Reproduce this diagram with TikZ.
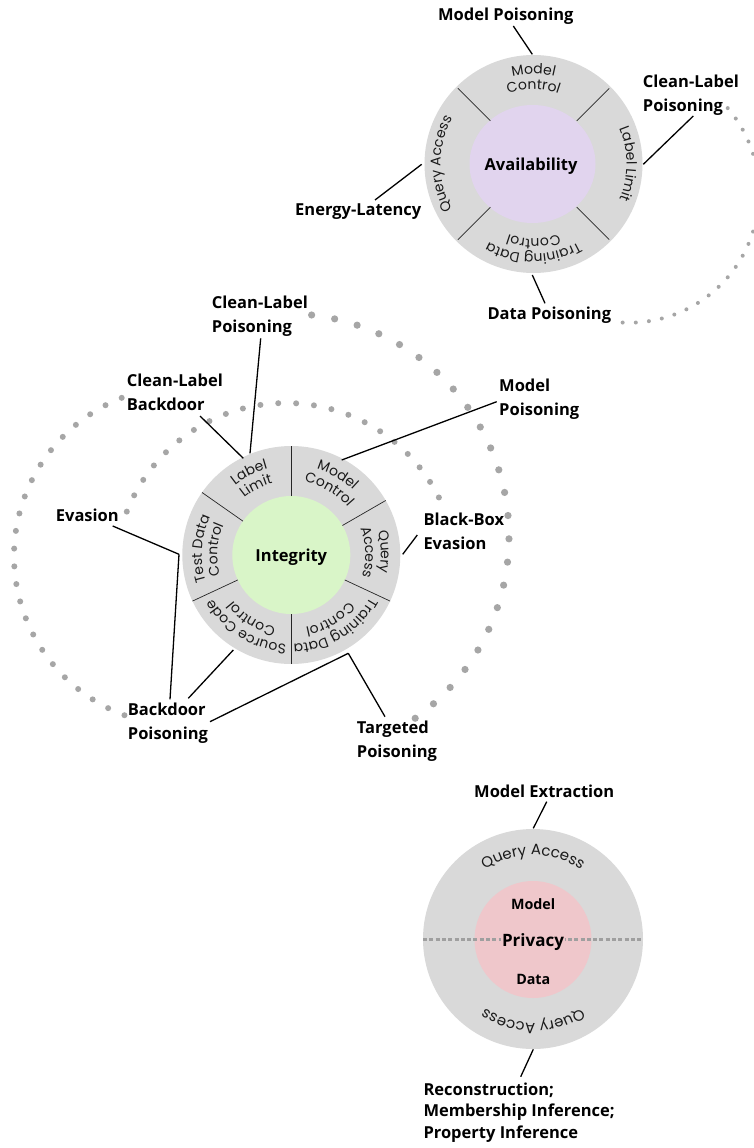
\documentclass[tikz,border=0pt]{standalone}
\usepackage{fontspec}
\setmainfont{Open Sans}
\newfontfamily\ringfont{Poppins}
\usetikzlibrary{decorations.text}
\definecolor{ringgray}{HTML}{D9D9D9}
\definecolor{availfill}{HTML}{E1D4EE}
\definecolor{integfill}{HTML}{D9F5C8}
\definecolor{privfill}{HTML}{EFC7CB}
\definecolor{dotgray}{HTML}{A6A6A6}
\definecolor{ringtxt}{HTML}{1A1A1A}
\newcommand\rfmt{\ringfont\fontsize{14}{16}\selectfont\color{ringtxt}}
\newcommand\rfmtb{\ringfont\fontsize{15}{17}\selectfont\color{ringtxt}}
\newcommand\rtxt[5]{\path[decorate,decoration={text along path,text align=center,text={|\rfmt|#5}}] (#1,#2) ++({#3+75}:#4pt) arc[start angle={#3+75},end angle={#3-75},radius=#4pt];}
\newcommand\rtxtb[5]{\path[decorate,decoration={text along path,text align=center,text={|\rfmtb|#5}}] (#1,#2) ++({#3+75}:#4pt) arc[start angle={#3+75},end angle={#3-75},radius=#4pt];}
\newcommand\lbl[1]{\begin{tabular}[t]{@{}l@{}}#1\end{tabular}}
\begin{document}
\begin{tikzpicture}[x=1pt,y=1pt,
  lab/.style={font=\bfseries\fontsize{16.5}{24}\selectfont, inner sep=0pt, anchor=base west},
  ctr/.style={font=\bfseries\fontsize{16.5}{20}\selectfont, inner sep=0pt, anchor=base},
  conn/.style={draw=black, line width=1.3pt},
  divl/.style={draw=black!85, line width=0.7pt},
  dotc/.style={fill=dotgray}]
\useasboundingbox (0,0) rectangle (754,-1148);
\clip (0,0) rectangle (754,-1148);
\fill[white] (0,0) rectangle (754,-1148);

% ---------- dotted arcs ----------
\foreach \k in {0,...,23} \fill[dotc] (629,-192.7) ++({40.6-5.8*\k}:130pt) circle[radius=2pt];
\foreach \k in {0,...,23} \fill[dotc] (286,-536.5) ++({83.4-6*\k}:223pt) circle[radius=3.6pt];
\foreach \k in {0,...,23} \fill[dotc] (184,-556) ++({111.5+6*\k}:170pt) circle[radius=3pt];
\foreach \k in {0,...,22} \fill[dotc] (286,-574) ++({158.6-6*\k}:171pt) circle[radius=3pt];

% ---------- Availability ----------
\fill[ringgray] (533.5,-164) circle[radius=109pt];
\fill[availfill] (532.5,-164) ellipse[x radius=63pt, y radius=59pt];
\foreach \a in {45,135,225,315} \draw[divl] (533.5,-164) ++(\a:61pt) -- ++(\a:46pt);
\node[ctr] (avail) at (531,-170.5) {Availability};
\rtxt{533.5}{-164}{90}{90}{Model}
\rtxt{533.5}{-164}{90}{75}{Control}
\rtxt{533.5}{-164}{0}{93}{Label Limit}
\rtxt{533.5}{-164}{270}{90}{Training Data}
\rtxt{533.5}{-164}{270}{75}{Control}
\rtxt{533.5}{-164}{180}{93}{Query Access}

\node[lab, anchor=base] (amp) at (505.8,-20.7) {Model Poisoning};
\node[lab] (aclp) at (642.7,-87.7) {\lbl{Clean-Label\\Poisoning}};
\node[lab] (ael) at (295,-215) {Energy-Latency};
\node[lab] (adp) at (487.3,-319.3) {Data Poisoning};

\coordinate (amp1) at (513.3,-26);   \coordinate (amp2) at (532.3,-54.3);
\coordinate (acl1) at (693.3,-116);  \coordinate (acl2) at (643.3,-164.3);
\coordinate (ael1) at (375,-200);    \coordinate (ael2) at (421.7,-164.3);
\coordinate (adp1) at (545,-303.3);  \coordinate (adp2) at (532.3,-275);
\draw[conn] (amp1) -- (amp2);
\draw[conn] (acl1) -- (acl2);
\draw[conn] (ael1) -- (ael2);
\draw[conn] (adp1) -- (adp2);

% ---------- Integrity ----------
\fill[ringgray] (291.3,-555) circle[radius=109pt];
\fill[integfill] (291.3,-555) circle[radius=59pt];
\foreach \a in {90,30,-25,-90,-155,145} \draw[divl] (291.3,-555) ++(\a:59pt) -- ++(\a:50pt);
\node[ctr] (integ) at (291.3,-561.5) {Integrity};
\rtxt{291.3}{-555}{117}{89.5}{Label}
\rtxt{291.3}{-555}{117}{74}{Limit}
\rtxt{291.3}{-555}{60}{89.5}{Model}
\rtxt{291.3}{-555}{60}{74}{Control}
\rtxt{291.3}{-555}{2}{89.5}{Query}
\rtxt{291.3}{-555}{2}{74}{Access}
\rtxt{291.3}{-555}{-58.5}{89.5}{Training Data}
\rtxt{291.3}{-555}{-59}{74}{Control}
\rtxt{291.3}{-555}{-122}{89.5}{Source Code}
\rtxt{291.3}{-555}{-122}{74}{Control}
\rtxt{291.3}{-555}{176}{89.5}{Test Data}
\rtxt{291.3}{-555}{176}{74}{Control}

\node[lab] (iclp) at (211.7,-308.3) {\lbl{Clean-Label\\Poisoning}};
\node[lab] (iclb) at (126.7,-386.4) {\lbl{Clean-Label\\Backdoor}};
\node[lab] (imp) at (499,-391.7) {\lbl{Model\\Poisoning}};
\node[lab] (iev) at (55.7,-521.4) {Evasion};
\node[lab] (ibb) at (423.3,-525.7) {\lbl{Black-Box\\Evasion}};
\node[lab] (ibp) at (127.7,-715) {\lbl{Backdoor\\Poisoning}};
\node[lab] (itp) at (356.7,-733) {\lbl{Targeted\\Poisoning}};

\coordinate (iclp1) at (260.7,-338.3); \coordinate (iclp2) at (250,-453.3);
\coordinate (iclb1) at (200,-416);     \coordinate (iclb2) at (243.3,-458.3);
\coordinate (imp1) at (496.7,-401.7);  \coordinate (imp2) at (341.7,-460);
\coordinate (iev1) at (112.7,-526);    \coordinate (itest) at (179,-554.3);
\coordinate (ibb1) at (417.3,-535);    \coordinate (ibb2) at (402.7,-554.3);
\coordinate (ibpa) at (170,-699.3);
\coordinate (ibpb) at (188.3,-698.3);  \coordinate (isrc) at (233.3,-650);
\coordinate (ibpc) at (210,-721.7);    \coordinate (itrain) at (348.3,-653.3);
\coordinate (itp1) at (385,-716.7);
\draw[conn] (iclp1) -- (iclp2);
\draw[conn] (iclb1) -- (iclb2);
\draw[conn] (imp1) -- (imp2);
\draw[conn] (iev1) -- (itest);
\draw[conn] (ibb1) -- (ibb2);
\draw[conn] (ibpa) -- (itest);
\draw[conn] (ibpb) -- (isrc);
\draw[conn] (ibpc) -- (itrain);
\draw[conn] (itp1) -- (itrain);

% ---------- Privacy ----------
\fill[ringgray] (533,-939) circle[radius=110pt];
\fill[privfill] (533,-939.5) circle[radius=58.5pt];
\coordinate (pl) at (423,-939.3); \coordinate (pr) at (643,-939.3);
\draw[draw=gray!75, line width=3pt, dash pattern=on 4pt off 2.3pt] (pl) -- (pr);
\node[ctr, font=\bfseries\fontsize{17}{20}\selectfont, fill=privfill, inner sep=1.5pt] (priv) at (533,-946) {Privacy};
\node[ctr, font=\bfseries\fontsize{14.3}{18}\selectfont] (pmod) at (533.2,-909.5) {Model};
\node[ctr, font=\bfseries\fontsize{14.3}{18}\selectfont] (pdat) at (533.3,-984) {Data};
\rtxtb{533}{-939}{90}{84}{Query Access}
\rtxtb{533}{-939}{270}{84}{Query Access}

\node[lab] (pme) at (474,-797.3) {Model Extraction};
\node[lab, font=\bfseries\fontsize{16.5}{21.7}\selectfont] (prec) at (423.3,-1095) {\lbl{Reconstruction;\\Membership Inference;\\Property Inference}};
\coordinate (pme1) at (546.7,-801.7); \coordinate (pme2) at (533.3,-828.3);
\coordinate (prec1) at (533.3,-1049.3); \coordinate (prec2) at (520.7,-1076.7);
\draw[conn] (pme1) -- (pme2);
\draw[conn] (prec1) -- (prec2);
\end{tikzpicture}
\end{document}
